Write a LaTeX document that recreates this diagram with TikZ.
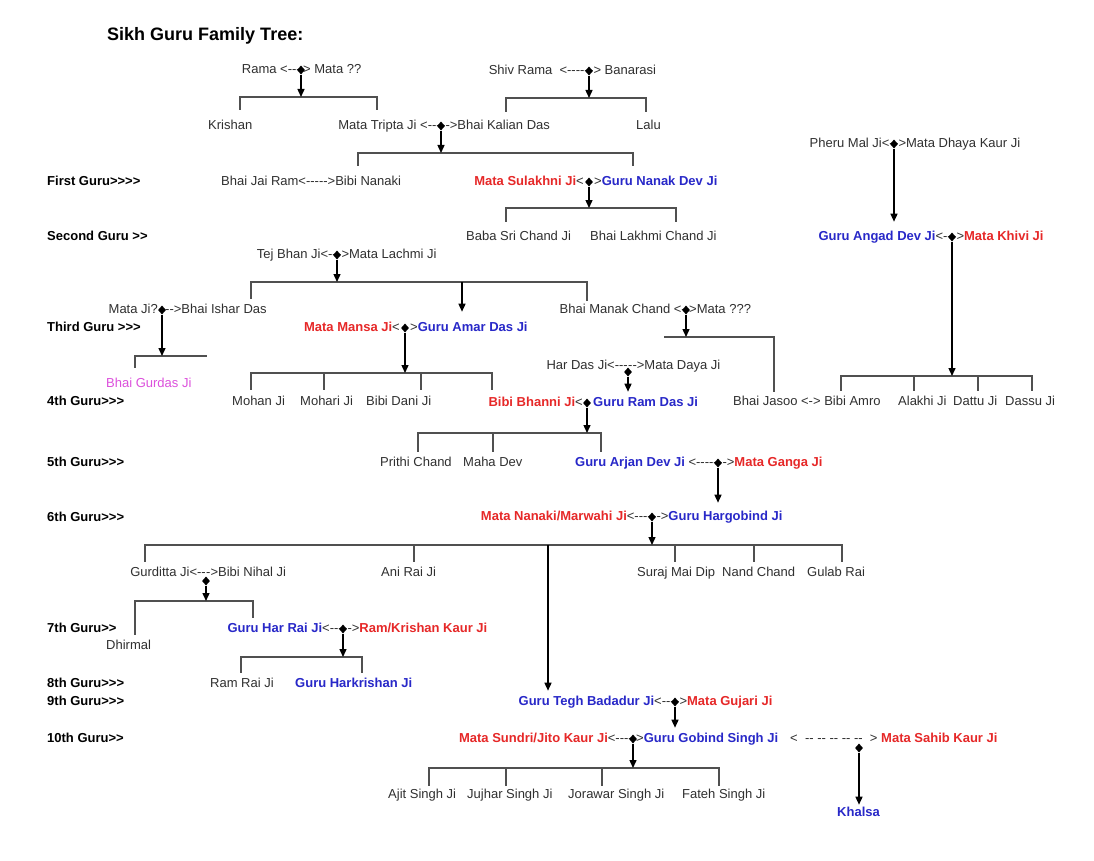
\documentclass[tikz,border=0pt]{standalone}
\usepackage{fontspec}
\setmainfont{Liberation Sans}[Ligatures=TeXOff]
\usetikzlibrary{arrows.meta,shapes.geometric}
\definecolor{gred}{HTML}{E62828}
\definecolor{gblue}{HTML}{2828C8}
\definecolor{gmag}{HTML}{DC50DC}
\definecolor{gtxt}{HTML}{303030}
\definecolor{gline}{HTML}{505050}
\newcommand{\rd}[1]{\textcolor{gred}{\bfseries #1}}
\newcommand{\bl}[1]{\textcolor{gblue}{\bfseries #1}}
\tikzset{
  tx/.style={font=\fontsize{13}{15}\selectfont, text=gtxt, inner xsep=0pt, inner ysep=5pt, text height=9.5pt, text depth=2.7pt},
  lbl/.style={tx, anchor=west, font=\fontsize{13}{15}\selectfont\bfseries, text=black},
  kid/.style={tx, anchor=west},
  lt/.style={tx, anchor=east},
  rt/.style={tx, anchor=west},
  dmd/.style={shape=diamond, fill=black, draw=none, minimum width=8pt, minimum height=9pt, inner sep=0pt},
  arr/.style={-{Triangle[length=8pt,width=7pt]}, line width=1.4pt, black},
  br/.style={line width=1.2pt, gline},
}
\begin{document}
\begin{tikzpicture}[x=1pt,y=-1pt]
\useasboundingbox[fill=white] (0,0) rectangle (1094,861);
% title
\node[anchor=west, font=\fontsize{18}{22}\selectfont\bfseries, text=black, inner sep=0pt] (title) at (107,36) {Sikh Guru Family Tree:};
% row labels
\node[lbl] (g1) at (47,182) {First Guru>>>>};
\node[lbl] (g2) at (47,237) {Second Guru >>};
\node[lbl] (g3) at (47,328) {Third Guru >>>};
\node[lbl] (g4) at (47,402) {4th Guru>>>};
\node[lbl] (g5) at (47,463) {5th Guru>>>};
\node[lbl] (g6) at (47,518) {6th Guru>>>};
\node[lbl] (g7) at (47,629) {7th Guru>>};
\node[lbl] (g8) at (47,684) {8th Guru>>>};
\node[lbl] (g9) at (47,702) {9th Guru>>>};
\node[lbl] (g10) at (47,739) {10th Guru>>};
% generation 0
\node[lt] (rama) at (301,70) {Rama <---};
\node[rt] (mata0) at (303,70) {> Mata ??};
\node[dmd] (dm1) at (301,70) {};
\node[lt] (shiv) at (589,71) {Shiv Rama \ <-----};
\node[rt] (ban) at (589,71) {-> Banarasi};
\node[dmd] (dm2) at (589,71) {};
% generation 1
\node[kid] (kri) at (208,126) {Krishan};
\node[lt] (tri) at (441,126) {Mata Tripta Ji <---};
\node[rt] (kal) at (441,126) {-->Bhai Kalian Das};
\node[dmd] (dm3) at (441,126) {};
\node[kid] (lalu) at (636,126) {Lalu};
\node[lt] (pher) at (894,144) {Pheru Mal Ji<-};
\node[rt] (dhay) at (894,144) {->Mata Dhaya Kaur Ji};
\node[dmd] (dm4) at (894,144) {};
% first guru
\node[kid] (jai) at (221,182) {Bhai Jai Ram<----->Bibi Nanaki};
\node[lt] (sul) at (584,182) {\rd{Mata Sulakhni Ji}<};
\node[rt] (nan) at (594,182) {>\bl{Guru Nanak Dev Ji}};
\node[dmd] (dm5) at (589,182) {};
% second guru
\node[kid] (sri) at (466,237) {Baba Sri Chand Ji};
\node[kid] (lak) at (590,237) {Bhai Lakhmi Chand Ji};
\node[lt] (ang) at (952,237) {\bl{Guru Angad Dev Ji}<--};
\node[rt] (khi) at (952,237) {->\rd{Mata Khivi Ji}};
\node[dmd] (dm6) at (952,237) {};
\node[lt] (tej) at (337,255) {Tej Bhan Ji<--};
\node[rt] (lac) at (337,255) {->Mata Lachmi Ji};
\node[dmd] (dm7) at (337,255) {};
% third guru
\node[lt] (mji) at (158,310) {Mata Ji?};
\node[rt] (ish) at (165,310) {-->Bhai Ishar Das};
\node[dmd] (dm8) at (162,310) {};
\node[lt] (man) at (686,310) {Bhai Manak Chand <-};
\node[rt] (mat3) at (689,310) {>Mata ???};
\node[dmd] (dm9) at (686,310) {};
\node[lt] (mns) at (400,328) {\rd{Mata Mansa Ji}<};
\node[rt] (amar) at (410,328) {>\bl{Guru Amar Das Ji}};
\node[dmd] (dm10) at (405,328) {};
\node[lt] (har) at (628,366) {Har Das Ji<---};
\node[rt] (day) at (628,366) {-->Mata Daya Ji};
\node[dmd] (dm11) at (628,372) {};
\node[kid, text=gmag] (gur) at (106,384) {Bhai Gurdas Ji};
% fourth guru
\node[kid] (moh) at (232,402) {Mohan Ji};
\node[kid] (mhr) at (300,402) {Mohari Ji};
\node[kid] (dan) at (366,402) {Bibi Dani Ji};
\node[lt] (bha) at (583,403) {\rd{Bibi Bhanni Ji}<};
\node[rt] (ram) at (593,403) {\bl{Guru Ram Das Ji}};
\node[dmd] (dm12) at (587,403) {};
\node[kid] (jas) at (733,402) {Bhai Jasoo <-> Bibi Amro};
\node[kid] (ala) at (898,402) {Alakhi Ji};
\node[kid] (dat) at (953,402) {Dattu Ji};
\node[kid] (das) at (1005,402) {Dassu Ji};
% fifth guru
\node[kid] (pri) at (380,463) {Prithi Chand};
\node[kid] (mah) at (463,463) {Maha Dev};
\node[lt] (arj) at (718,463) {\bl{Guru Arjan Dev Ji} <-----};
\node[rt] (gan) at (718,463) {-->\rd{Mata Ganga Ji}};
\node[dmd] (dm13) at (718,463) {};
% sixth guru
\node[lt] (nnk) at (652,517) {\rd{Mata Nanaki/Marwahi Ji}<----};
\node[rt] (hgb) at (652,517) {-->\bl{Guru Hargobind Ji}};
\node[dmd] (dm14) at (652,517) {};
\node[lt] (gdt) at (206,573) {Gurditta Ji<--};
\node[rt] (nih) at (206,573) {->Bibi Nihal Ji};
\node[dmd] (dm15) at (206,581) {};
\node[kid] (ani) at (381,573) {Ani Rai Ji};
\node[kid] (sur) at (637,573) {Suraj Mai Dip};
\node[kid] (nnd) at (722,573) {Nand Chand};
\node[kid] (gul) at (807,573) {Gulab Rai};
% seventh guru
\node[lt] (hrr) at (343,629) {\bl{Guru Har Rai Ji}<---};
\node[rt] (rkk) at (343,629) {-->\rd{Ram/Krishan Kaur Ji}};
\node[dmd] (dm16) at (343,629) {};
\node[kid] (dhi) at (106,646) {Dhirmal};
% eighth / ninth
\node[kid] (rri) at (210,684) {Ram Rai Ji};
\node[kid] (hk) at (295,684) {\bl{Guru Harkrishan Ji}};
\node[lt] (teg) at (675,702) {\bl{Guru Tegh Badadur Ji}<---};
\node[rt] (guj) at (675,702) {->\rd{Mata Gujari Ji}};
\node[dmd] (dm17) at (675,702) {};
% tenth
\node[lt] (sun) at (633,739) {\rd{Mata Sundri/Jito Kaur Ji}<----};
\node[rt] (gob) at (636,739) {>\bl{Guru Gobind Singh Ji}};
\node[dmd] (dm18) at (633,739) {};
\node[kid] (sah) at (790,739) {<\ \ -- -- -- -- --\ \ > \rd{Mata Sahib Kaur Ji}};
\node[dmd] (dm19) at (859,748) {};
\node[kid] (aj) at (388,795) {Ajit Singh Ji};
\node[kid] (ju) at (467,795) {Jujhar Singh Ji};
\node[kid] (jo) at (568,795) {Jorawar Singh Ji};
\node[kid] (fa) at (682,795) {Fateh Singh Ji};
\node[kid] (kha) at (837,813) {\bl{Khalsa}};

% bracket coordinates
\coordinate (b1a) at (240,97); \coordinate (b1b) at (301,97); \coordinate (b1c) at (377,97);
\coordinate (b2a) at (506,98); \coordinate (b2b) at (589,98); \coordinate (b2c) at (646,98);
\coordinate (b3a) at (358,153); \coordinate (b3b) at (441,153); \coordinate (b3c) at (633,153);
\coordinate (b5a) at (506,208); \coordinate (b5b) at (589,208); \coordinate (b5c) at (676,208);
\coordinate (b6a) at (841,376); \coordinate (b6b) at (914,376); \coordinate (b6c) at (952,376); \coordinate (b6d) at (978,376); \coordinate (b6e) at (1032,376);
\coordinate (b7a) at (251,282); \coordinate (b7b) at (337,282); \coordinate (b7c) at (462,282); \coordinate (b7d) at (587,282);
\coordinate (b8a) at (135,356); \coordinate (b8b) at (162,356); \coordinate (b8c) at (207,356);
\coordinate (b9a) at (251,373); \coordinate (b9b) at (324,373); \coordinate (b9c) at (405,373); \coordinate (b9d) at (421,373); \coordinate (b9e) at (492,373);
\coordinate (b10a) at (664,337); \coordinate (b10b) at (686,337); \coordinate (b10c) at (774,337);
\coordinate (b12a) at (418,433); \coordinate (b12b) at (493,433); \coordinate (b12c) at (587,433); \coordinate (b12d) at (601,433);
\coordinate (b14a) at (145,545); \coordinate (b14b) at (414,545); \coordinate (b14c) at (548,545); \coordinate (b14d) at (652,545); \coordinate (b14e) at (675,545); \coordinate (b14f) at (754,545); \coordinate (b14g) at (842,545);
\coordinate (b15a) at (135,601); \coordinate (b15b) at (206,601); \coordinate (b15c) at (253,601);
\coordinate (b16a) at (241,657); \coordinate (b16b) at (343,657); \coordinate (b16c) at (362,657);
\coordinate (b18a) at (429,768); \coordinate (b18b) at (506,768); \coordinate (b18c) at (602,768); \coordinate (b18d) at (633,768); \coordinate (b18e) at (719,768);

% brackets
\draw[br] ([yshift=5pt]kri.north -| b1a) -- (b1a) -- (b1c) -- ([yshift=5pt]tri.north -| b1c);
\draw[br] ([yshift=3pt]kal.north -| b2a) -- (b2a) -- (b2c) -- ([yshift=3pt]lalu.north -| b2c);
\draw[br] ([yshift=5pt]jai.north -| b3a) -- (b3a) -- (b3c) -- ([yshift=5pt]nan.north -| b3c);
\draw[br] ([yshift=4pt]sri.north -| b5a) -- (b5a) -- (b5c) -- ([yshift=4pt]lak.north -| b5c);
\draw[br] (jas.north -| b6a) -- (b6a) -- (b6e) -- (das.north -| b6e);
\draw[br] (b6b) -- (ala.north -| b6b);
\draw[br] (b6d) -- (dat.north -| b6d);
\draw[br] (ish.north -| b7a) -- (b7a) -- (b7d) -- ([yshift=-2pt]man.north -| b7d);
\draw[br] ([yshift=5pt]gur.north -| b8a) -- (b8a) -- (b8c);
\draw[br] ([yshift=1pt]moh.north -| b9a) -- (b9a) -- (b9e) -- ([yshift=2pt]bha.north -| b9e);
\draw[br] (b9b) -- ([yshift=1pt]mhr.north -| b9b);
\draw[br] (b9d) -- ([yshift=1pt]dan.north -| b9d);
\draw[br] (b10a) -- (b10c) -- ([yshift=-1pt]jas.north -| b10c);
\draw[br] (pri.north -| b12a) -- (b12a) -- (b12d) -- (arj.north -| b12d);
\draw[br] (b12b) -- (mah.north -| b12b);
\draw[br] (gdt.north -| b14a) -- (b14a) -- (b14g) -- (gul.north -| b14g);
\draw[br] (b14b) -- (ani.north -| b14b);
\draw[br] (b14e) -- (sur.north -| b14e);
\draw[br] (b14f) -- (nnd.north -| b14f);
\draw[br] (dhi.north -| b15a) -- (b15a) -- (b15c) -- (hrr.north -| b15c);
\draw[br] (rri.north -| b16a) -- (b16a) -- (b16c) -- (hk.north -| b16c);
\draw[br] ([yshift=-2pt]aj.north -| b18a) -- (b18a) -- (b18e) -- ([yshift=-2pt]fa.north -| b18e);
\draw[br] (b18b) -- ([yshift=-2pt]ju.north -| b18b);
\draw[br] (b18c) -- ([yshift=-2pt]jo.north -| b18c);

% arrows
\draw[arr] (dm1) -- (b1b);
\draw[arr] (dm2) -- (b2b);
\draw[arr] (dm3) -- (b3b);
\draw[arr] (dm4) -- ([yshift=4pt]ang.north -| dm4);
\draw[arr] (dm5) -- (b5b);
\draw[arr] (dm6) -- (b6c);
\draw[arr] (dm7) -- (b7b);
\draw[arr] (b7c) -- ([yshift=5pt]amar.north -| b7c);
\draw[arr] (dm8) -- (b8b);
\draw[arr] (dm9) -- (b10b);
\draw[arr] (dm10) -- (b9c);
\draw[arr] (dm11) -- (ram.north -| dm11);
\draw[arr] (dm12) -- (b12c);
\draw[arr] (dm13) -- ([yshift=3pt]hgb.north -| dm13);
\draw[arr] (dm14) -- (b14d);
\draw[arr] (b14c) -- (teg.north -| b14c);
\draw[arr] (dm15) -- (b15b);
\draw[arr] (dm16) -- (b16b);
\draw[arr] (dm17) -- (gob.north -| dm17);
\draw[arr] (dm18) -- (b18d);
\draw[arr] (dm19) -- ([yshift=-3pt]kha.north -| dm19);
\end{tikzpicture}
\end{document}
